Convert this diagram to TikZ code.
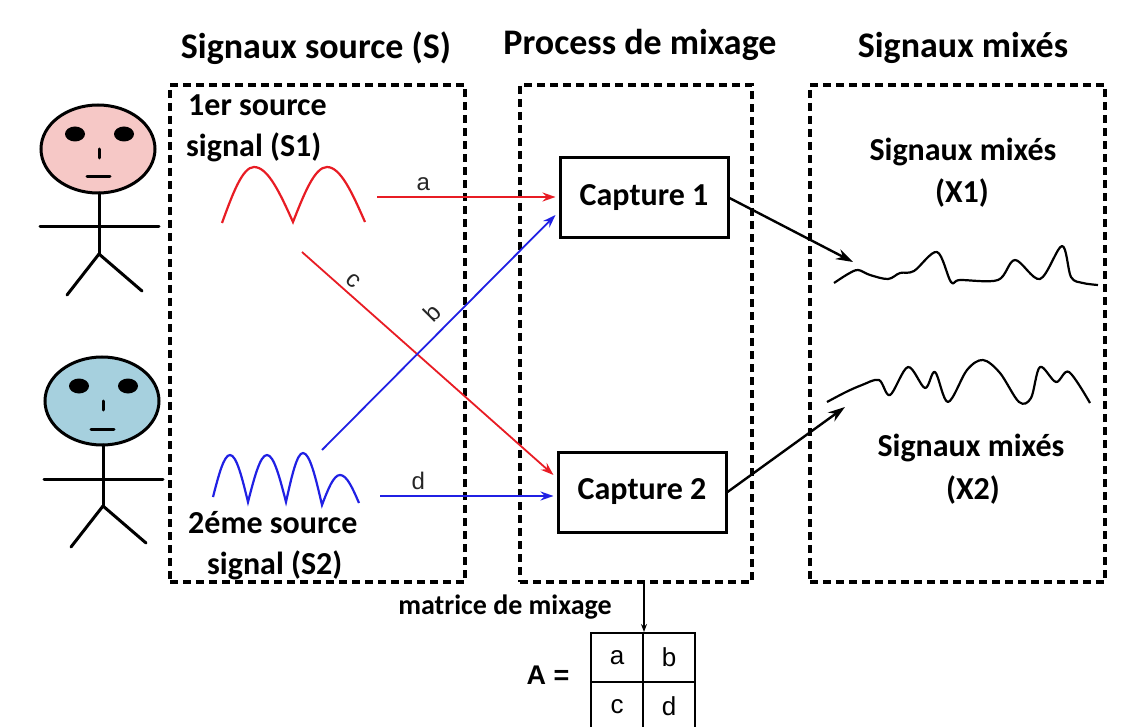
\documentclass[tikz,border=0pt]{standalone}
\usepackage{fontspec}
\setmainfont{Carlito}
\newfontfamily\arialfont{Liberation Sans}
\usetikzlibrary{arrows.meta}

\definecolor{facepink}{RGB}{246,200,198}
\definecolor{faceblue}{RGB}{166,208,222}
\definecolor{sigred}{RGB}{232,28,36}
\definecolor{sigblue}{RGB}{32,32,228}

\def\capw{168}
\def\caph{80}

\begin{document}
\begin{tikzpicture}[x=1pt,y=-1pt,
% Here are defined the frames, the sensors, the signals and the matrix cells
frame/.style={
draw=black, line width=3.5pt,
dash pattern=on 8pt off 5pt },
heading/.style={
font=\fontsize{36}{40}\selectfont\bfseries },
txt/.style={
font=\fontsize{32}{36}\selectfont\bfseries, inner sep=0 },
capture/.style={
rectangle, draw=black, line width=3pt,
minimum width=\capw pt, minimum height=\caph pt,
font=\fontsize{32}{36}\selectfont\bfseries },
man/.style={
line width=3pt, line cap=round },
wave/.style={
line width=2.2pt },
link/.style={
-{Stealth[length=13pt,width=9pt]}, line width=1.8pt },
mixarrow/.style={
-{Stealth[length=17pt,width=11pt]}, line width=2.4pt },
coef/.style={
font=\arialfont\fontsize{24}{28}\selectfont, text=black!85,
sloped, above, inner sep=5pt },
cell/.style={
rectangle, draw=black, line width=2pt,
minimum width=52pt, minimum height=49pt,
font=\arialfont\fontsize{26}{30}\selectfont },
]

\path[use as bounding box, fill=white] (0,0) rectangle (1146,727);
\clip (0,0) rectangle (1146,727);

%%%%%%%%%%%%%%%%%%%%%%%%
%%% THE 3 COLUMNS
%%%%%%%%%%%%%%%%%%%%%%%%

\node[heading] (hsrc) at (316,48) {Signaux source (S)};
\node[heading] (hmix) at (640,45) {Process de mixage};
\node[heading] (hout) at (963,48) {Signaux mixés};

\node[frame, minimum width=295pt, minimum height=497pt] (fsrc) at (317.5,333.5) {};
\node[frame, minimum width=232pt, minimum height=497pt] (fmix) at (636,333.5) {};
\node[frame, minimum width=295pt, minimum height=497pt] (fout) at (957.5,333.5) {};

%%%% The two speakers
\foreach \hx/\hy/\col in {98/149/facepink, 102/401/faceblue}{
\begin{scope}[shift={(\hx,\hy)}]
\draw[man, fill=\col] (0,0) ellipse [x radius=57, y radius=44];
\fill (-23,-15) ellipse [x radius=10, y radius=7.5];
\fill (26,-15) ellipse [x radius=10, y radius=7.5];
\draw[man] (1,0) -- (1,9);
\draw[man] (-11,28) -- (12,28);
\draw[man] (1,44) -- (1,105);
\draw[man] (-58,78) -- (61,78);
\draw[man] (1,105) -- (-31,146);
\draw[man] (1,105) -- (44,142);
\end{scope}
}

%%%% Source signals
\node[txt, anchor=west] (s1top) at (188,105) {1er source};
\node[txt, anchor=west] (s1bot) at (186,147) {signal (S1)};
\node[txt, anchor=west] (s2top) at (188,523) {2éme source};
\node[txt, anchor=west] (s2bot) at (207,565) {signal (S2)};

\draw[wave, sigred] (222,223) sin (254,167) cos (293,222) sin (327,167) cos (365,222);
\draw[wave, sigblue] (213,497) sin (230,455) cos (248,502) sin (267,455) cos (286,502)
sin (303,453) cos (322,505) sin (340,475) cos (359,503);

\coordinate (s1a) at (377,197);
\coordinate (s1c) at (302,252);
\coordinate (s2b) at (322,450);
\coordinate (s2d) at (380,496);

%%%% Sensors
\node[capture] (cap1) at (644,198) {Capture 1};
\node[capture] (cap2) at (642,492) {Capture 2};

\draw[link, sigred] (s1a) -- node[coef, pos=0.26] (ca) {a} ([xshift=-3pt]s1a -| cap1.west);
\draw[link, sigred] (s1c) -- node[coef, pos=0.17] (cc) {c} ([shift={(-3pt,17pt)}]cap2.west);
\draw[link, sigblue] (s2b) -- node[coef, pos=0.53, inner sep=9pt] (cb) {b} ([shift={(-3pt,-17pt)}]cap1.west);
\draw[link, sigblue] (s2d) -- node[coef, pos=0.22] (cd) {d} ([xshift=-3pt]s2d -| cap2.west);

%%%% Mixed signals
\node[txt] (x1top) at (963,152) {Signaux mixés};
\node[txt] (x1bot) at (962,193) {(X1)};
\node[txt] (x2top) at (971,448) {Signaux mixés};
\node[txt] (x2bot) at (973,490) {(X2)};

\draw[wave, line join=round] plot[smooth, tension=0.55] coordinates {(834,283) (848,274) (858,270) (870,275)
(888,279) (900,273) (914,271) (937,252) (951,282) (960,280) (998,280) (1015,260) (1040,279) (1062,246)
(1071,277) (1083,283) (1098,285)};
\draw[wave, line join=round] plot[smooth, tension=0.55] coordinates {(827,402) (846,392) (862,385) (879,380)
(890,395) (908,367) (925,388) (935,372) (948,402) (967,370) (983,360) (1000,373) (1019,402) (1031,398)
(1040,367) (1056,382) (1069,372) (1090,403)};

\coordinate (x1in) at (853,262);
\coordinate (x2in) at (845,407);

\draw[mixarrow] (cap1.east) -- (x1in);
\draw[mixarrow] (cap2.east) -- (x2in);

%%%%%%%%%%%%%%%%%%%%%%%%
%%% MIXING MATRIX
%%%%%%%%%%%%%%%%%%%%%%%%
\node[font=\fontsize{28}{32}\selectfont\bfseries] (mtitle) at (505,607) {matrice de mixage};

\node[cell] (m11) at (617,657.5) {a};
\node[cell] (m12) at (669,657.5) {b};
\node[cell] (m21) at (617,706.5) {c};
\node[cell] (m22) at (669,706.5) {d};
\node[font=\arialfont\fontsize{27}{30}\selectfont\bfseries] (aeq) at (548,675) {A =};

\draw[-{Stealth[length=8pt,width=6pt]}, line width=1.2pt] (fmix.south -| m11.east) -- (m11.north east);

\end{tikzpicture}
\end{document}
